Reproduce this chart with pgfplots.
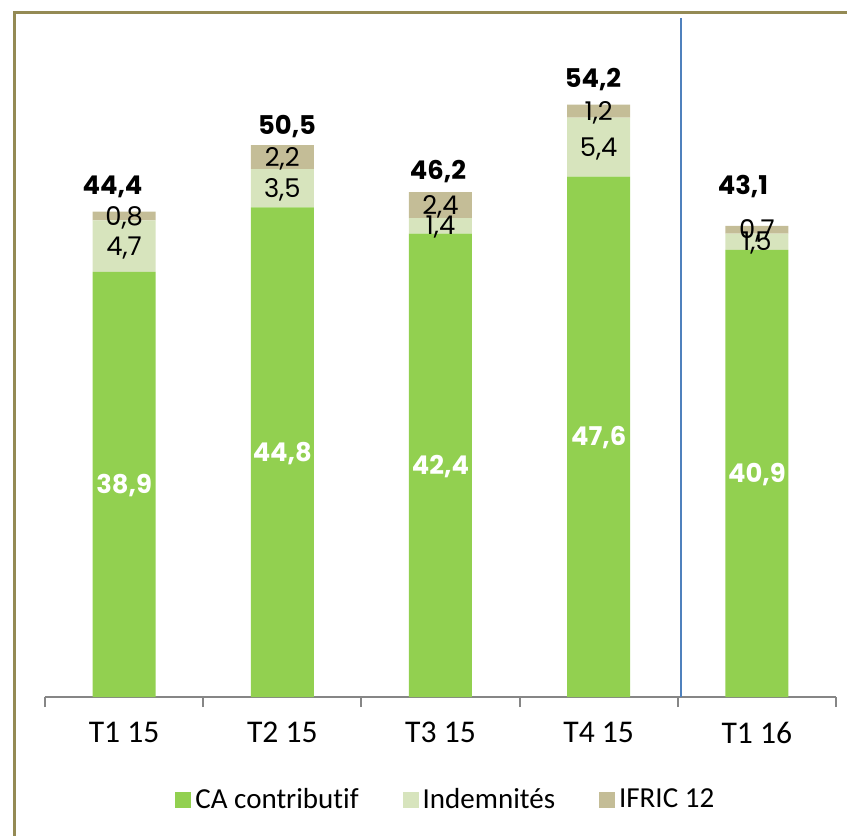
\documentclass[border=0pt]{standalone}
\usepackage{fontspec}
\setmainfont{Carlito}[Ligatures=NoCommon]
\newfontfamily\gothic{Poppins}
\usepackage{pgfplots}
\usepackage{pgfplotstable}
\pgfplotsset{compat=1.18}
\definecolor{cagreen}{HTML}{92D050}
\definecolor{indem}{HTML}{D7E4BD}
\definecolor{ifric}{HTML}{C4BD97}
\definecolor{framec}{HTML}{948A54}
\definecolor{axgray}{HTML}{868686}
\definecolor{vblue}{HTML}{4F81BD}

\pgfplotstableread{
x val
0 38.9
1 44.8
2 42.4
3 47.6
4 40.9
}\tca
\pgfplotstableread{
x val
0 4.7
1 3.5
2 1.4
3 5.4
4 1.5
}\tindem
\pgfplotstableread{
x val
0 0.8
1 2.2
2 2.4
3 1.2
4 0.7
}\tifric
\pgfplotstableread{
x y lab
0 19.45 38,9
1 22.40 44,8
2 21.20 42,4
3 23.80 47,6
4 20.45 40,9
}\lca
\pgfplotstableread{
x y lab
0 41.25 4,7
1 46.55 3,5
2 43.10 1,4
3 50.30 5,4
4 41.65 1,5
}\lindem
\pgfplotstableread{
x y lab
0 44.00 0,8
1 49.40 2,2
2 45.00 2,4
3 53.60 1,2
4 42.75 0,7
}\lifric
\pgfplotstableread{
x y lab
-0.073 45.93 44,4
1.030 51.42 50,5
1.984 47.30 46,2
2.964 55.72 54,2
3.912 45.93 43,1
}\ltot

\begin{document}
\begin{tikzpicture}
\useasboundingbox (-22.5pt,-69.5pt) rectangle (401pt,348.5pt);
\clip (-22.5pt,-69.5pt) rectangle (401pt,348.5pt);
\draw[framec, line width=1.5pt] (-15pt,-90pt) -- (-15pt,342pt) -- (430pt,342pt);
\begin{axis}[
  scale only axis,
  width=395.5pt, height=339.5pt,
  xmin=-0.5, xmax=4.5, ymin=0, ymax=62.12,
  ybar stacked, bar width=31.5pt,
  axis x line*=bottom, axis y line=none,
  axis line style={axgray, line width=1pt},
  xtick={0,1,2,3,4},
  xticklabels={T1 15, T2 15, T3 15, T4 15, T1 16},
  major tick length=0pt,
  minor xtick={-0.5,0.5,1.5,2.5,3.5,4.5},
  minor tick length=5pt,
  xtick align=outside,
  minor tick style={axgray, line width=1pt},
  xticklabel style={font=\fontsize{15.8}{18}\selectfont, yshift=-9pt},
  clip=false,
  legend columns=-1,
  legend style={at={(axis description cs:0.508,-0.1517)}, anchor=center,
    draw=none, fill=none, font=\fontsize{14.5}{17}\selectfont,
    /tikz/every even column/.append style={column sep=20pt}},
]
\addplot[fill=cagreen, draw=none, legend image code/.code={\fill[cagreen] (0pt,-4pt) rectangle (8pt,4pt);}] table[x=x,y=val] {\tca};
\addlegendentry{CA contributif}
\addplot[fill=indem, draw=none, legend image code/.code={\fill[indem] (0pt,-4pt) rectangle (8pt,4pt);}] table[x=x,y=val] {\tindem};
\addlegendentry{Indemnités}
\addplot[fill=ifric, draw=none, legend image code/.code={\fill[ifric] (0pt,-4pt) rectangle (8pt,4pt);}] table[x=x,y=val] {\tifric};
\addlegendentry{IFRIC 12}
\end{axis}
\begin{axis}[
  scale only axis,
  width=395.5pt, height=339.5pt,
  xmin=-0.5, xmax=4.5, ymin=0, ymax=62.12,
  hide axis, clip=false,
]
\addplot[vblue, line width=1pt] coordinates {(3.52,0) (3.52,62.12)};
\addplot[draw=none, nodes near coords, point meta=explicit symbolic,
  every node near coord/.append style={anchor=center, text height=9pt, text depth=0pt, inner sep=0pt,
    font=\gothic\bfseries\fontsize{12.9}{15}\selectfont, text=white}]
  table[x=x,y=y,meta=lab] {\lca};
\addplot[draw=none, nodes near coords, point meta=explicit symbolic,
  every node near coord/.append style={anchor=center, text height=9pt, text depth=0pt, inner sep=0pt,
    font=\gothic\fontsize{12.9}{15}\selectfont, text=black}]
  table[x=x,y=y,meta=lab] {\lindem};
\addplot[draw=none, nodes near coords, point meta=explicit symbolic,
  every node near coord/.append style={anchor=center, text height=9pt, text depth=0pt, inner sep=0pt,
    font=\gothic\fontsize{12.9}{15}\selectfont, text=black}]
  table[x=x,y=y,meta=lab] {\lifric};
\addplot[draw=none, nodes near coords, point meta=explicit symbolic,
  every node near coord/.append style={anchor=base, inner sep=0pt,
    font=\gothic\bfseries\fontsize{12.9}{15}\selectfont, text=black}]
  table[x=x,y=y,meta=lab] {\ltot};
\end{axis}
\end{tikzpicture}
\end{document}
